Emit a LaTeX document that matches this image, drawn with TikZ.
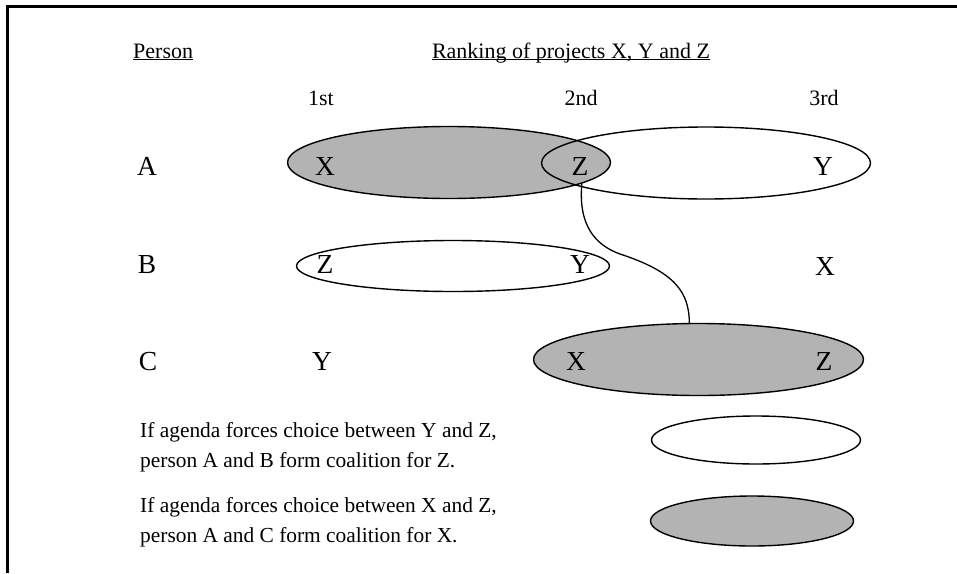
\documentclass[tikz,border=0pt]{standalone}
\usepackage{fontspec}
\setmainfont{Liberation Serif}
\usetikzlibrary{shapes.geometric}
\definecolor{fillgray}{RGB}{179,179,179}
\newcommand\myul[1]{\underline{\smash{#1}}}
\tikzset{
  letter/.style={anchor=base,inner sep=0pt,font=\fontsize{27.5}{30}\selectfont},
  head/.style={anchor=base,inner sep=0pt,font=\fontsize{22}{25}\selectfont},
  legend/.style={anchor=base west,inner sep=0pt,align=left,font=\fontsize{21.4}{30}\selectfont},
  oval/.style={ellipse,draw,line width=1.4pt,inner sep=0pt},
  grayoval/.style={oval,fill=fillgray},
  frameline/.style={line width=3pt},
  link/.style={line width=1.3pt}
}
\begin{document}
\begin{tikzpicture}[x=1pt,y=-1pt]
\useasboundingbox (0,0) rectangle (957,573);
% frame
\coordinate (fbl) at (7,573);
\coordinate (ftl) at (7,6.5);
\coordinate (ftr) at (957,6.5);
\draw[frameline] (fbl) -- (ftl) -- (ftr);
% headers
\node[head,anchor=base west] (person) at (133,58) {\myul{Person}};
\node[head] (ranking) at (571,58) {\myul{Ranking of projects X, Y and Z}};
\node[head] (first) at (321,105) {1st};
\node[head] (second) at (581,105) {2nd};
\node[head] (third) at (824,105) {3rd};
% ellipses
\node[grayoval,minimum width=323pt,minimum height=72pt] (eA1) at (449,162.5) {};
\node[oval,minimum width=329pt,minimum height=72pt] (eA2) at (706,163) {};
\node[oval,minimum width=313pt,minimum height=51pt] (eB) at (453,266) {};
\node[grayoval,minimum width=330pt,minimum height=72pt] (eC) at (698.5,359.5) {};
\node[oval,minimum width=209pt,minimum height=48pt] (eL1) at (756,440) {};
\node[grayoval,minimum width=203pt,minimum height=50pt] (eL2) at (752,521) {};
% connector
\coordinate (mid) at (620,254);
\draw[link] (eA1.-9.7) .. controls (578,225) and (595,245) .. (mid)
  .. controls (675,272) and (689,292) .. (eC.104);
% row labels
\node[letter] (A) at (147,175) {A};
\node[letter] (B) at (147,273) {B};
\node[letter] (C) at (148,370) {C};
% row A
\node[letter] (aX) at (325,175) {X};
\node[letter] (aZ) at (580,175) {Z};
\node[letter] (aY) at (823,175) {Y};
% row B
\node[letter] (bZ) at (325,273) {Z};
\node[letter] (bY) at (580,273) {Y};
\node[letter] (bX) at (825,275) {X};
% row C
\node[letter] (cY) at (322,370) {Y};
\node[letter] (cX) at (576,370) {X};
\node[letter] (cZ) at (824,370) {Z};
% legend texts (base anchor = baseline of last line)
\node[legend] (t1) at (140,467) {If agenda forces choice between Y and Z,\\person A and B form coalition for Z.};
\node[legend] (t2) at (140,542) {If agenda forces choice between X and Z,\\person A and C form coalition for X.};
\end{tikzpicture}
\end{document}
